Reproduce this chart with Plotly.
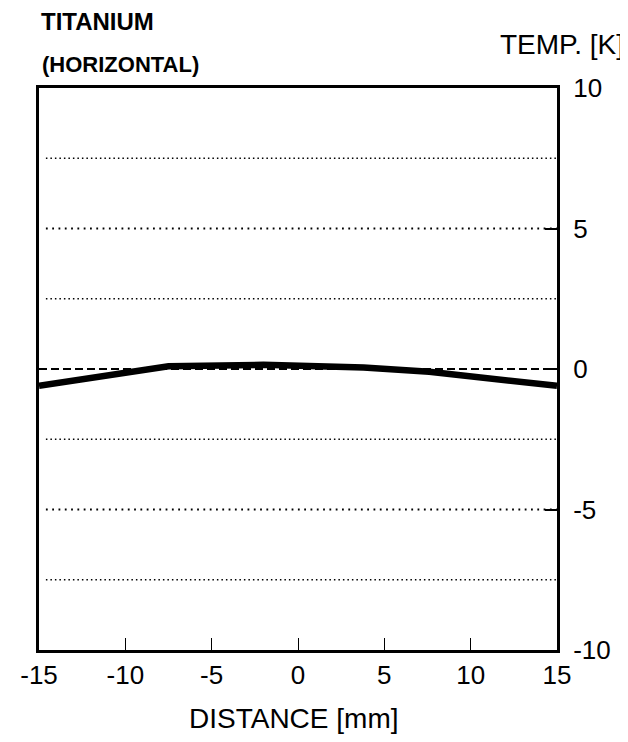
import plotly.graph_objects as go

# Data
distance_mm = [-15, -7.5, -2, 3.8, 7.6, 10, 15]
temp_k = [-0.6, 0.1, 0.15, 0.05, -0.1, -0.25, -0.6]

x_tick_vals = [-15, -10, -5, 0, 5, 10, 15]
x_minor_ticks = [-10, -5, 0, 5, 10]
y_tick_vals = [-10, -5, 0, 5, 10]
dotted_fine_levels = [-7.5, -2.5, 2.5, 7.5]
dotted_coarse_levels = [-5, 5]
dashed_level = 0

FONT = "Liberation Sans, Arial, Helvetica, sans-serif"

fig = go.Figure()
fig.add_trace(go.Scatter(
    x=distance_mm, y=temp_k, mode="lines",
    line=dict(color="black", width=6.5),
    showlegend=False, hoverinfo="skip",
))

shapes = []
for lvl in dotted_fine_levels:
    shapes.append(dict(type="line", xref="x", yref="y", x0=-14.6, x1=15, y0=lvl, y1=lvl,
                       line=dict(color="black", width=1.4, dash="1.5px,3px"), layer="below"))
for lvl in dotted_coarse_levels:
    shapes.append(dict(type="line", xref="x", yref="y", x0=-14.6, x1=15, y0=lvl, y1=lvl,
                       line=dict(color="black", width=1.8, dash="1.8px,4.5px"), layer="below"))
shapes.append(dict(type="line", xref="x", yref="y", x0=-15, x1=15, y0=dashed_level, y1=dashed_level,
                   line=dict(color="black", width=1.8, dash="8px,4px"), layer="below"))

fig.update_layout(
    width=620, height=734,
    margin=dict(l=26, r=71, t=80, b=92),
    paper_bgcolor="white", plot_bgcolor="white",
    shapes=shapes,
    font=dict(family=FONT, color="black"),
    xaxis=dict(
        range=[-15, 15], tickvals=x_tick_vals, ticktext=[str(v) for v in x_tick_vals],
        ticks="", showline=True, linewidth=3, linecolor="black", mirror=True,
        showgrid=False, zeroline=False,
        tickfont=dict(size=26, family=FONT), ticklabelstandoff=0,
        minor=dict(tickvals=x_minor_ticks, ticks="inside", ticklen=12, tickwidth=1.2,
                   tickcolor="black", showgrid=False),
    ),
    yaxis=dict(
        range=[-10, 10], side="right", tickvals=y_tick_vals,
        ticktext=[str(v) for v in y_tick_vals],
        ticks="inside", ticklen=12, tickwidth=2, tickcolor="black",
        showline=True, linewidth=3, linecolor="black", mirror=True,
        showgrid=False, zeroline=False,
        tickfont=dict(size=26, family=FONT), ticklabelstandoff=8,
    ),
    annotations=[
        dict(text="<b>TITANIUM</b>", xref="paper", yref="paper", x=0, xshift=0,
             y=1, yshift=67, xanchor="left", yanchor="middle", showarrow=False,
             font=dict(size=24, family=FONT)),
        dict(text="<b>(HORIZONTAL)</b>", xref="paper", yref="paper", x=0, xshift=1,
             y=1, yshift=24, xanchor="left", yanchor="middle", showarrow=False,
             font=dict(size=22, family=FONT)),
        dict(text="TEMP. [K]", xref="paper", yref="paper", x=1, xshift=69,
             y=1, yshift=44, xanchor="right", yanchor="middle", showarrow=False,
             font=dict(size=28, family=FONT)),
        dict(text="DISTANCE [mm]", xref="paper", yref="paper", x=0.5, xshift=-5,
             y=0, yshift=-68, xanchor="center", yanchor="middle", showarrow=False,
             font=dict(size=28, family=FONT)),
    ],
)

fig.write_html("out.html")
